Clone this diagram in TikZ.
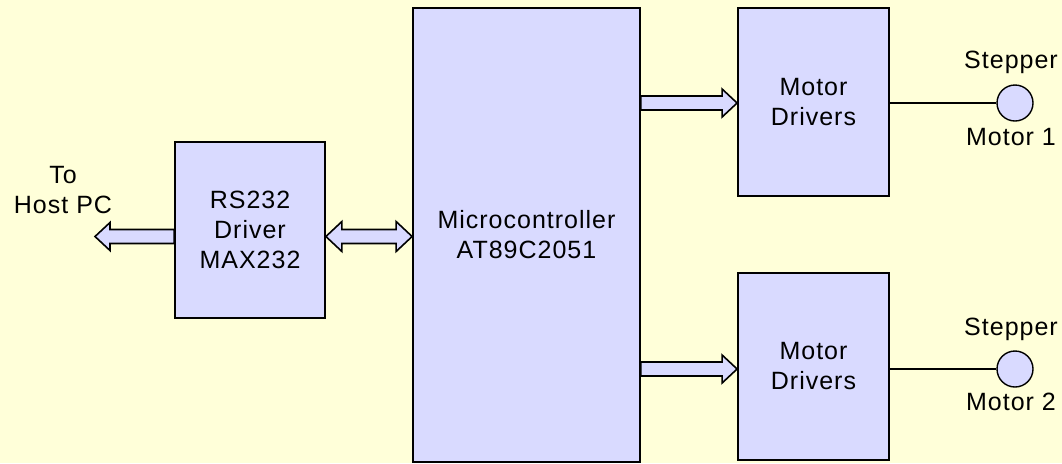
\documentclass[tikz,border=0pt]{standalone}
\usepackage{fontspec}
\setmainfont[LetterSpace=4]{Liberation Sans}
\usetikzlibrary{positioning,calc}
\definecolor{bgyellow}{RGB}{255,255,217}
\definecolor{boxblue}{RGB}{217,218,255}

% hollow block arrow, tip at #2
\newcommand\blockarrow[2]{%
  \draw[fat] let \p1=(#1), \p2=(#2), \n1={sign(\x2-\x1)} in
    (\x1,\y1+3.5pt) -- ({\x2-(\n1)*7.5pt},\y1+3.5pt) -- ({\x2-(\n1)*7.5pt},\y1+7pt)
    -- (\x2,\y1) -- ({\x2-(\n1)*7.5pt},\y1-7pt) -- ({\x2-(\n1)*7.5pt},\y1-3.5pt)
    -- (\x1,\y1-3.5pt) -- cycle;}
% hollow block arrow with two tips
\newcommand\dblarrow[2]{%
  \draw[fat] let \p1=(#1), \p2=(#2) in
    (\x1,\y1) -- (\x1+8pt,\y1+7.5pt) -- (\x1+8pt,\y1+3.5pt) -- (\x2-8pt,\y1+3.5pt)
    -- (\x2-8pt,\y1+7.5pt) -- (\x2,\y1) -- (\x2-8pt,\y1-7.5pt) -- (\x2-8pt,\y1-3.5pt)
    -- (\x1+8pt,\y1-3.5pt) -- (\x1+8pt,\y1-7.5pt) -- cycle;}

\begin{document}
\begin{tikzpicture}[x=0.5pt,y=-0.5pt,font=\fontsize{12.5}{15}\selectfont,
          blk/.style ={draw,line width=0.9pt,fill=boxblue,align=center,inner sep=0pt},
          fat/.style ={draw,line width=0.8pt,fill=boxblue,line join=miter},
          motor/.style={draw,circle,line width=0.7pt,fill=boxblue,minimum size=18pt,inner sep=0pt},
          txt/.style ={inner sep=0pt,anchor=base}]
        \fill[bgyellow] (0,0) rectangle (1062,463);
        \useasboundingbox (0,0) rectangle (1062,463);
        \node[blk,minimum width=75pt,minimum height=88pt] (rs) at (250,230) {RS232\\Driver\\MAX232};
        \node[blk,minimum width=113.5pt,minimum height=227pt] (mc) at (526.5,235) {Microcontroller\\AT89C2051};
        \node[blk,minimum width=75.5pt,minimum height=94pt] (md1) at (813.5,102) {Motor\\Drivers};
        \node[blk,minimum width=75.5pt,minimum height=93.5pt] (md2) at (813.5,366.5) {Motor\\Drivers};
        \node[motor] (m1) at (1015,103) {};
        \node[motor] (m2) at (1015,369) {};
        \node[txt] (s1) at (1011,68) {Stepper};
        \node[txt] (n1) at (1011,145) {Motor 1};
        \node[txt] (s2) at (1011,335) {Stepper};
        \node[txt] (n2) at (1011,410) {Motor 2};
        \node[align=center,inner sep=0pt] (pc) at (63,190) {To\\Host PC};
        \coordinate (host) at (95,236.5);
        \blockarrow{rs.west |- host}{host}
        \dblarrow{rs.east |- host}{mc.west |- host}
        \blockarrow{mc.east |- m1}{md1.west |- m1}
        \blockarrow{mc.east |- m2}{md2.west |- m2}
        \draw[line width=0.6pt] (md1.east |- m1) -- (m1.west);
        \draw[line width=0.6pt] (md2.east |- m2) -- (m2.west);
      \end{tikzpicture}
\end{document}
